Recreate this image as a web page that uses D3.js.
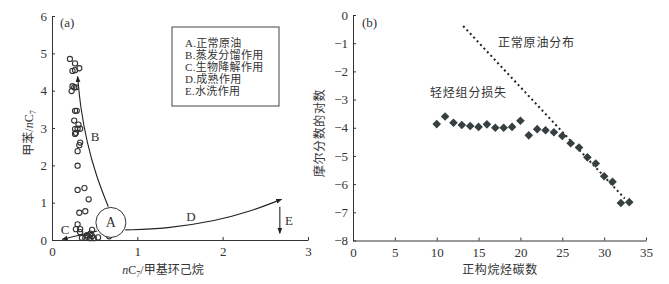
<!DOCTYPE html>
<html>
<head>
<meta charset="utf-8">
<script src="https://cdn.jsdelivr.net/npm/d3@7"></script>
<style>
  body { margin: 0; background: #fff; }
  svg text { font-family: "Liberation Serif", "Noto Sans CJK SC", serif; fill: #333; }
  .axis path, .axis line { stroke: #333; }
  .axis text { font-size: 13px; fill: #333; }
</style>
</head>
<body>
<svg id="chart" width="669" height="284"></svg>
<script>
// panel (a): toluene/nC7 vs nC7/methylcyclohexane
const ratioX = [0.21, 0.27, 0.24, 0.27, 0.32, 0.24, 0.26, 0.23, 0.28, 0.27, 0.29, 0.26, 0.31,
  0.27, 0.30, 0.33, 0.27, 0.28, 0.33, 0.32, 0.30, 0.30, 0.30, 0.38, 0.43, 0.32, 0.39, 0.30,
  0.28, 0.33, 0.33, 0.47, 0.45, 0.41, 0.35, 0.39, 0.42, 0.45, 0.47, 0.49, 0.54, 0.67];
const ratioY = [4.85, 4.73, 4.53, 4.55, 4.60, 4.12, 4.09, 3.99, 4.09, 3.46, 3.46, 3.20, 3.09,
  2.97, 2.98, 2.98, 2.84, 2.87, 2.61, 2.54, 2.38, 1.99, 1.34, 1.39, 1.09, 0.73, 0.77, 0.42,
  0.29, 0.29, 0.21, 0.27, 0.17, 0.13, 0.06, 0.06, 0.09, 0.05, 0.10, 0.05, 0.07, 0.10];
const pointA = [0.69, 0.47];
const curveB = [[0.66, 0.89], [0.52, 1.7], [0.41, 2.6], [0.33, 3.6], [0.30, 4.38]];
const curveC = [[0.53, 0.24], [0.12, 0.02]];
const curveD = [[0.86, 0.27], [1.34, 0.30], [1.93, 0.52], [2.32, 0.76], [2.69, 1.09]];
const curveE = [[2.67, 0.89], [2.67, 0.18]];
const legendItems = ['A.正常原油', 'B.蒸发分馏作用', 'C.生物降解作用', 'D.成熟作用', 'E.水洗作用'];

// panel (b): log mole fraction vs n-alkane carbon number
const carbonNumber = [10, 11, 12, 13, 14, 15, 16, 17, 18, 19, 20, 21, 22, 23, 24, 25, 26, 27, 28, 29, 30, 31, 32, 33];
const logMole = [-3.87, -3.60, -3.82, -3.90, -3.94, -3.97, -3.88, -4.00, -4.00, -3.97, -3.75, -4.27,
  -4.05, -4.09, -4.16, -4.29, -4.55, -4.70, -5.05, -5.27, -5.72, -5.92, -6.67, -6.64];
const normalLine = [[13.16, -0.39], [32.46, -6.51]];

const svg = d3.select('#chart');

svg.append('defs').append('marker')
  .attr('id', 'arrow')
  .attr('viewBox', '0 0 10 10')
  .attr('refX', 9).attr('refY', 5)
  .attr('markerWidth', 6).attr('markerHeight', 6)
  .attr('markerUnits', 'userSpaceOnUse')
  .attr('orient', 'auto')
  .append('path')
  .attr('d', 'M0,1L10,5L0,9Z')
  .attr('fill', '#222');

// ---------- panel (a)
const xa = d3.scaleLinear().domain([0, 3]).range([52, 308]);
const ya = d3.scaleLinear().domain([0, 6]).range([240, 16]);

svg.append('g').attr('class', 'axis')
  .attr('transform', 'translate(0,240)')
  .call(d3.axisBottom(xa).ticks(3).tickSize(-3).tickSizeOuter(0).tickPadding(7));
svg.append('g').attr('class', 'axis')
  .attr('transform', 'translate(52,0)')
  .call(d3.axisLeft(ya).ticks(6).tickSize(-3).tickSizeOuter(0).tickPadding(5));

svg.append('g').selectAll('circle.pt')
  .data(ratioX.map((v, i) => [v, ratioY[i]]))
  .join('circle')
  .attr('cx', d => xa(d[0]))
  .attr('cy', d => ya(d[1]))
  .attr('r', 2.6)
  .attr('fill', 'none')
  .attr('stroke', '#333')
  .attr('stroke-width', 1.1);

[curveB, curveC, curveD, curveE].forEach(c => {
  svg.append('path')
    .attr('d', d3.line().curve(d3.curveBasis).x(d => xa(d[0])).y(d => ya(d[1]))(c))
    .attr('fill', 'none')
    .attr('stroke', '#222')
    .attr('stroke-width', 1.1)
    .attr('marker-end', 'url(#arrow)');
});

svg.append('circle')
  .attr('cx', xa(pointA[0])).attr('cy', ya(pointA[1]))
  .attr('r', 15)
  .attr('fill', '#fff')
  .attr('stroke', '#333')
  .attr('stroke-width', 1);
svg.append('text')
  .attr('x', xa(pointA[0])).attr('y', ya(pointA[1]) + 5)
  .attr('text-anchor', 'middle')
  .style('font-size', '14px')
  .text('A');

const curveLabels = [['B', 95, 141], ['C', 65, 234], ['D', 191, 221], ['E', 289, 225]];
svg.append('g').selectAll('text')
  .data(curveLabels)
  .join('text')
  .attr('x', d => d[1]).attr('y', d => d[2])
  .attr('text-anchor', 'middle')
  .style('font-size', '13px')
  .text(d => d[0]);

svg.append('text').attr('x', 60).attr('y', 27).style('font-size', '13px').text('(a)');

svg.append('rect')
  .attr('x', 172).attr('y', 27).attr('width', 107).attr('height', 79)
  .attr('fill', '#fff').attr('stroke', '#444').attr('stroke-width', 1);
svg.append('g').selectAll('text')
  .data(legendItems)
  .join('text')
  .attr('x', 185)
  .attr('y', (d, i) => 47 + i * 12)
  .style('font-size', '11px')
  .style('letter-spacing', '0.3px')
  .text(d => d);

const ylabA = svg.append('text')
  .attr('transform', 'translate(33,133) rotate(-90)')
  .attr('text-anchor', 'middle')
  .style('font-size', '12px');
ylabA.append('tspan').text('甲苯/');
ylabA.append('tspan').style('font-style', 'italic').text('n');
ylabA.append('tspan').text('C');
ylabA.append('tspan').attr('dy', 3).style('font-size', '8px').text('7');

const xlabA = svg.append('text')
  .attr('x', 163).attr('y', 274)
  .attr('text-anchor', 'middle')
  .style('font-size', '12px');
xlabA.append('tspan').style('font-style', 'italic').text('n');
xlabA.append('tspan').text('C');
xlabA.append('tspan').attr('dy', 3).style('font-size', '8px').text('7');
xlabA.append('tspan').attr('dy', -3).text('/甲基环己烷');

// ---------- panel (b)
const xb = d3.scaleLinear().domain([0, 35]).range([353, 646]);
const yb = d3.scaleLinear().domain([-8, 0]).range([240.5, 15]);

svg.append('g').attr('class', 'axis')
  .attr('transform', 'translate(0,240.5)')
  .call(d3.axisBottom(xb).ticks(7).tickSize(-3).tickSizeOuter(0).tickPadding(7));
svg.append('g').attr('class', 'axis')
  .attr('transform', 'translate(353,0)')
  .call(d3.axisLeft(yb).ticks(8).tickSize(-3).tickSizeOuter(0).tickPadding(5));

svg.append('path')
  .attr('d', d3.line().x(d => xb(d[0])).y(d => yb(d[1]))(normalLine))
  .attr('stroke', '#222')
  .attr('stroke-width', 2)
  .attr('stroke-dasharray', '2,3');

svg.append('g').selectAll('path.dia')
  .data(carbonNumber.map((c, i) => [c, logMole[i]]))
  .join('path')
  .attr('transform', d => `translate(${xb(d[0])},${yb(d[1])})`)
  .attr('d', 'M0,-4.3L4.3,0L0,4.3L-4.3,0Z')
  .attr('fill', '#364040');

svg.append('text').attr('x', 362).attr('y', 27).style('font-size', '13px').text('(b)');
svg.append('text').attr('x', 498).attr('y', 47).style('font-size', '12px')
  .style('letter-spacing', '0.8px').text('正常原油分布');
svg.append('text').attr('x', 430).attr('y', 97).style('font-size', '12px')
  .style('letter-spacing', '0.8px').text('轻烃组分损失');

svg.append('text')
  .attr('transform', 'translate(324,133) rotate(-90)')
  .attr('text-anchor', 'middle')
  .style('font-size', '12px')
  .style('letter-spacing', '0.6px')
  .text('摩尔分数的对数');
svg.append('text')
  .attr('x', 500).attr('y', 274)
  .attr('text-anchor', 'middle')
  .style('font-size', '12px')
  .style('letter-spacing', '0.6px')
  .text('正构烷烃碳数');
</script>
</body>
</html>
